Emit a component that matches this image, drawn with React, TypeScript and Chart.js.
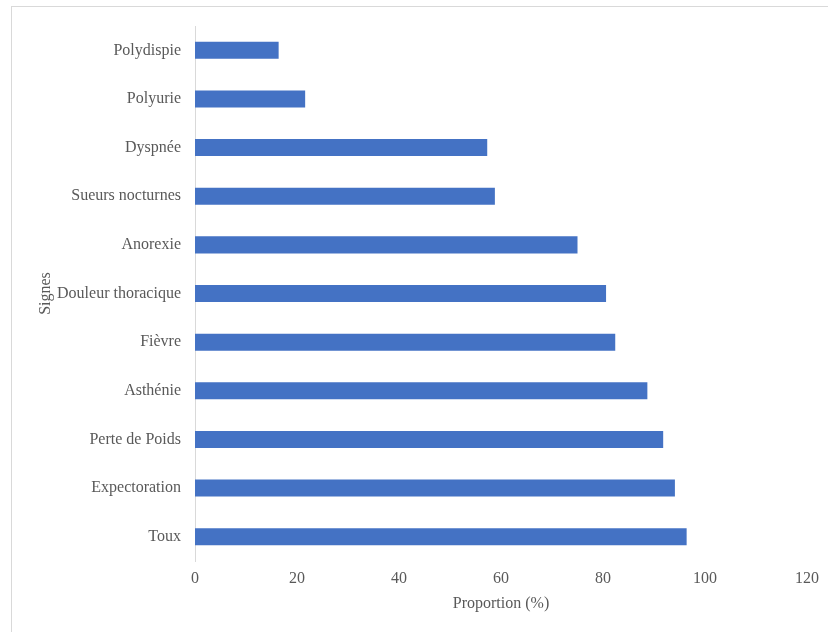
import React, { useEffect, useRef } from "react";
import { Chart, registerables } from "chart.js";

Chart.register(...registerables);

const categories = [
  "Polydispie",
  "Polyurie",
  "Dyspnée",
  "Sueurs nocturnes",
  "Anorexie",
  "Douleur thoracique",
  "Fièvre",
  "Asthénie",
  "Perte de Poids",
  "Expectoration",
  "Toux",
];
const proportions = [16.4, 21.6, 57.3, 58.8, 75.0, 80.6, 82.4, 88.7, 91.8, 94.1, 96.4];
const xTitle = "Proportion (%)";
const yTitle = "Signes";

const FONT = "'Liberation Serif', 'Times New Roman', serif";
const TEXT = "#595959";

export default function App() {
  const ref = useRef<HTMLCanvasElement | null>(null);
  useEffect(() => {
    if (!ref.current) return;
    const chart = new Chart(ref.current, {
      type: "bar",
      data: {
        labels: categories,
        datasets: [
          {
            data: proportions,
            backgroundColor: "#4472C4",
            borderWidth: 0,
            barPercentage: 0.35,
            categoryPercentage: 1,
          },
        ],
      },
      options: {
        indexAxis: "y",
        responsive: false,
        animation: false,
        layout: { padding: { left: 32, right: 21, top: 26, bottom: 15 } },
        plugins: { legend: { display: false }, tooltip: { enabled: false } },
        scales: {
          x: {
            min: 0,
            max: 120,
            ticks: { stepSize: 20, color: TEXT, font: { family: FONT, size: 16 }, padding: 8, maxRotation: 0 },
            grid: { display: false, drawTicks: false },
            border: { display: false },
            title: { display: true, text: xTitle, color: TEXT, font: { family: FONT, size: 16 } },
            afterFit: (s: any) => {
              s.height = 56;
            },
          },
          y: {
            ticks: { color: TEXT, font: { family: FONT, size: 16 }, padding: 14 },
            grid: { display: false, drawTicks: false },
            border: { display: true, color: "#d9d9d9", width: 1 },
            title: { display: true, text: yTitle, color: TEXT, font: { family: FONT, size: 16 } },
            afterFit: (s: any) => {
              s.width = 163;
            },
          },
        },
      },
    });
    return () => chart.destroy();
  }, []);
  return (
    <div style={{ position: "fixed", left: 0, top: 0, width: 828, height: 632, overflow: "hidden", background: "#fff" }}>
      <div
        style={{
          position: "absolute",
          left: 11,
          top: 6,
          width: 840,
          height: 650,
          border: "1px solid #d9d9d9",
          boxSizing: "border-box",
        }}
      />
      <canvas ref={ref} width={828} height={632} style={{ position: "absolute", left: 0, top: 0 }} />
    </div>
  );
}
